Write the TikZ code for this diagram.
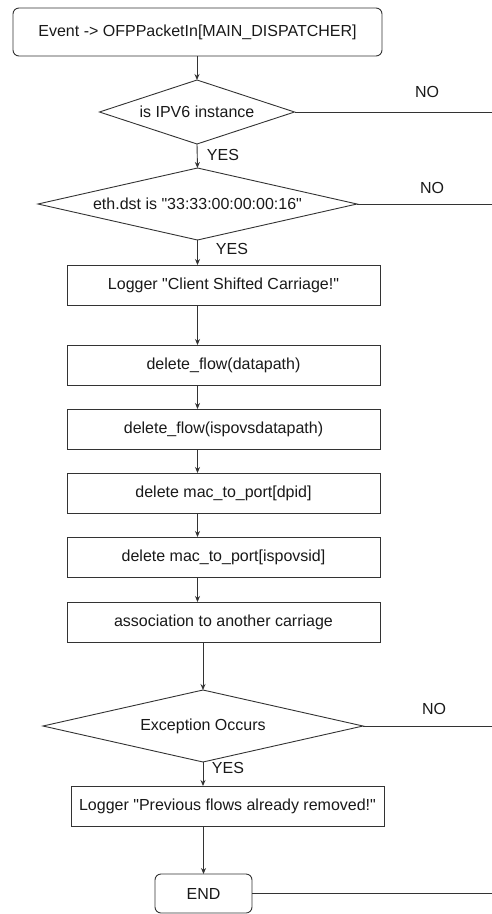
\documentclass[tikz,border=0pt]{standalone}
\usepackage{fontspec}
\setmainfont{Liberation Sans}
\usetikzlibrary{shapes.geometric,arrows.meta}
\newcommand{\qq}{\textquotedbl}
\begin{document}
\begin{tikzpicture}[x=1pt,y=-1pt,
  every node/.style={font=\fontsize{16}{19}\selectfont, text=black!90},
  ln/.style={draw=black!80, line width=0.9pt},
  stepbox/.style={ln, rectangle, minimum height=40, inner sep=0pt, outer sep=0pt},
  termbox/.style={ln, rectangle, rounded corners=6pt, inner sep=0pt, outer sep=0pt},
  dia/.style={ln, diamond, inner sep=0pt, outer sep=0pt},
  arr/.style={ln, -{Stealth[length=6pt,width=5pt]}},
  lbl/.style={inner sep=0pt}
]
\useasboundingbox (0,0) rectangle (492,914);

\node[termbox, minimum width=369, minimum height=48] (s) at (197.5,32) {Event -> OFPPacketIn[MAIN\_DISPATCHER]};

\node[dia, minimum width=195, minimum height=64] (d1) at (197,112) {};
\node[lbl] (t1) at (d1.center) {is IPV6 instance};

\node[dia, minimum width=319, minimum height=72] (d2) at (197.5,204) {};
\node[lbl] (t2) at (d2.center) {eth.dst is \qq33:33:00:00:00:16\qq};

\node[stepbox, minimum width=313] (b1) at (223.5,285) {Logger \qq Client Shifted Carriage!\qq};
\node[stepbox, minimum width=313] (b2) at (223.5,365) {delete\_flow(datapath)};
\node[stepbox, minimum width=313] (b3) at (223.5,429) {delete\_flow(ispovsdatapath)};
\node[stepbox, minimum width=313] (b4) at (223.5,493) {delete mac\_to\_port[dpid]};
\node[stepbox, minimum width=313] (b5) at (223.5,557) {delete mac\_to\_port[ispovsid]};
\node[stepbox, minimum width=313] (b6) at (223.5,622) {association to another carriage};

\node[dia, minimum width=320, minimum height=72] (d3) at (203,726) {};
\node[lbl] (t3) at (d3.center) {Exception Occurs};

\node[stepbox, minimum width=313] (b7) at (227.5,806) {Logger \qq Previous flows already removed!\qq};

\node[termbox, minimum width=97, minimum height=39] (e) at (203.5,893.5) {END};

% labels
\node[lbl] (no1) at (427,92) {NO};
\node[lbl] (no2) at (432,188) {NO};
\node[lbl] (no3) at (434,709) {NO};
\node[lbl] (y1) at (223,155) {YES};
\node[lbl] (y2) at (232,249) {YES};
\node[lbl] (y3) at (228,768) {YES};

% right edge coordinates
\coordinate (r1) at (492,112);
\coordinate (r2) at (492,204);
\coordinate (r3) at (492,726);
\coordinate (r4) at (492,893.5);

% connectors
\draw[arr] (s.south -| d1.north) -- (d1.north);
\draw[arr] (d1.south) -- (d2.north);
\draw[arr] (d2.south) -- (d2.south |- b1.north);
\draw[arr] (b1.south -| d2.south) -- (b2.north -| d2.south);
\draw[arr] (b2.south -| d2.south) -- (b3.north -| d2.south);
\draw[arr] (b3.south -| d2.south) -- (b4.north -| d2.south);
\draw[arr] (b4.south -| d2.south) -- (b5.north -| d2.south);
\draw[arr] (b5.south -| d2.south) -- (b6.north -| d2.south);
\draw[arr] (b6.south -| d3.north) -- (d3.north);
\draw[arr] (d3.south) -- (d3.south |- b7.north);
\draw[arr] (b7.south -| e.north) -- (e.north);

\draw[ln] (d1.east) -- (r1);
\draw[ln] (d2.east) -- (r2);
\draw[ln] (d3.east) -- (r3);
\draw[ln] (e.east) -- (r4);
\end{tikzpicture}
\end{document}
